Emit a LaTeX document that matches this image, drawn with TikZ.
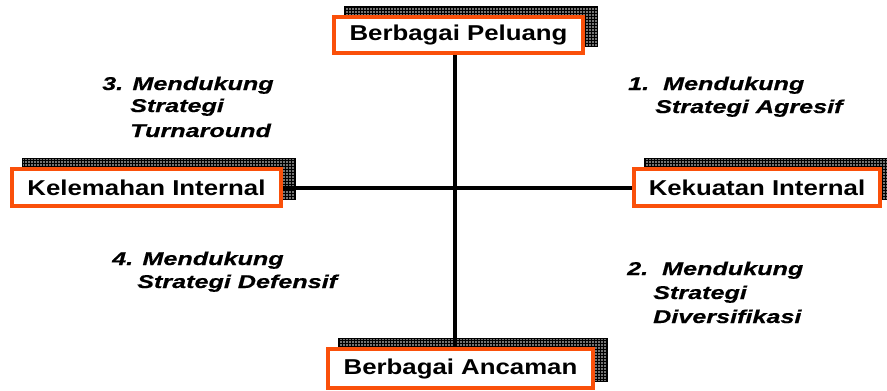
\documentclass[tikz,border=0pt]{standalone}
\usepackage{fontspec}
\setmainfont{Liberation Sans}
\newfontfamily\boxfont{Liberation Sans}[FakeStretch=1.2]
\newfontfamily\notefont{Liberation Sans}[FakeStretch=1.36,FakeBold=0.6]
\usetikzlibrary{patterns,calc,backgrounds}
\definecolor{boxorange}{RGB}{250,80,10}
\tikzset{
  labelbox/.style={draw=boxorange, line width=4pt, fill=white, inner sep=0pt,
    font=\boxfont\bfseries\fontsize{21.5}{25}\selectfont},
  shadowgrid/.style={preaction={fill=black!55}, pattern=grid, pattern color=black,
    draw=black, line width=0.6pt},
  axisline/.style={line width=4pt, black},
  note/.style={anchor=base west, inner sep=0pt,
    font=\notefont\bfseries\itshape\fontsize{18.5}{22}\selectfont}
}
\begin{document}
\begin{tikzpicture}[x=1pt,y=-1pt]
  \useasboundingbox (0,0) rectangle (887,391);

  % the four boxes
  \node[labelbox, minimum width=249pt, minimum height=36pt] (top)    at (458.5,35)  {Berbagai Peluang};
  \node[labelbox, minimum width=269pt, minimum height=37pt] (left)   at (146.5,187.5) {Kelemahan Internal};
  \node[labelbox, minimum width=246pt, minimum height=37pt] (right)  at (757,187.5) {Kekuatan Internal};
  \node[labelbox, minimum width=265pt, minimum height=39pt] (bottom) at (460.5,368.5) {Berbagai Ancaman};

  % hatched shadows behind the boxes
  \begin{scope}[on background layer]
    \foreach \n in {top,left,right,bottom}
      \draw[shadowgrid] ($(\n.north west)+(12,-9)$) rectangle ($(\n.south east)+(12,-9)$);
  \end{scope}

  % the two axes
  \coordinate (c) at (455,188);
  \draw[axisline] (top.south -| c) -- (bottom.north -| c);
  \draw[axisline] (left.east |- c) -- (right.west |- c);

  % quadrant notes
  \node[note] (q3a) at (102,90)  {3. Mendukung};
  \node[note] (q3b) at (130,112) {Strategi};
  \node[note] (q3c) at (130,137) {Turnaround};

  \node[note] (q1a) at (628,90)  {1.\ \ Mendukung};
  \node[note] (q1b) at (655,113) {Strategi Agresif};

  \node[note] (q4a) at (112,265) {4. Mendukung};
  \node[note] (q4b) at (137,288) {Strategi Defensif};

  \node[note] (q2a) at (627,275) {2.\ \ Mendukung};
  \node[note] (q2b) at (653,299) {Strategi};
  \node[note] (q2c) at (653,323) {Diversifikasi};
\end{tikzpicture}
\end{document}
